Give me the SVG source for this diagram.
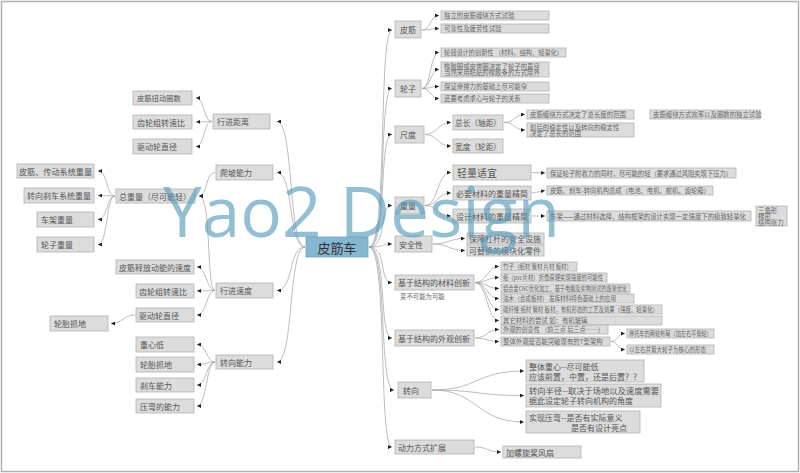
<svg xmlns="http://www.w3.org/2000/svg" width="800" height="473" viewBox="0 0 800 473">
<defs>
<marker id="a" markerWidth="4" markerHeight="4" refX="4" refY="2" orient="auto" markerUnits="userSpaceOnUse"><path d="M0,0 L4,2 L0,4 z" fill="#222"/></marker>
<style>
text{font-family:"Noto Sans CJK SC","Noto Sans",sans-serif;fill:#555;dominant-baseline:central}
.n rect{fill:#dcdcdc;stroke:#b2b2b2;stroke-width:0.8}
.m text{font-size:8px}
.s text{font-size:6.4px;fill:#666}
.c path{fill:none;stroke:#a0a0a0;stroke-width:0.7;marker-end:url(#a)}
.wm{font-family:"Open Sans","DejaVu Sans",sans-serif;font-size:70px;fill:#5b9ebd;opacity:0.65;dominant-baseline:alphabetic}
</style>
</defs>
<rect x="1.5" y="1.5" width="797" height="470" fill="#fff" stroke="#b0b0b0" stroke-width="1.5"/>

<g id="connectors" class="c">
<!-- right trunk -->
<path d="M369,247 C388,247 378,30 392,30"/>
<path d="M369,247 C388,247 378,88.5 392,88.5"/>
<path d="M369,247 C388,247 378,134.5 392,134.5"/>
<path d="M369,247 C388,247 378,205.5 392,205.5"/>
<path d="M369,247 C388,247 378,244 392,244"/>
<path d="M369,247 C388,247 378,282.5 392,282.5"/>
<path d="M369,247 C388,247 378,338 392,338"/>
<path d="M369,247 C388,247 378,390 394,390"/>
<path d="M369,247 C388,247 378,447 392,447"/>
<!-- left trunk -->
<path d="M305,247 C288,247 294,121.5 277,121.5"/>
<path d="M305,247 C288,247 294,172.5 277,172.5"/>
<path d="M305,247 C288,247 294,290.5 277,290.5"/>
<path d="M305,247 C288,247 294,362 277,362"/>
<!-- 皮筋 -->
<path d="M422,30 C431,30 430,15.5 439,15.5"/>
<path d="M422,30 C431,30 430,28.5 439,28.5"/>
<!-- 轮子 -->
<path d="M422,88.5 C431,88.5 430,52.5 439,52.5"/>
<path d="M422,88.5 C431,88.5 430,69.5 439,69.5"/>
<path d="M422,88.5 C431,88.5 430,86.5 439,86.5"/>
<path d="M422,88.5 C431,88.5 430,98.5 439,98.5"/>
<!-- 尺度 -->
<path d="M425,134.5 C438,134.5 437,122.5 451,122.5"/>
<path d="M425,134.5 C438,134.5 437,146 451,146"/>
<path d="M504,122.5 C515,122.5 514,114.5 525,114.5"/>
<path d="M504,122.5 C515,122.5 514,130 525,130"/>
<!-- 重量 -->
<path d="M425,205.5 C438,205.5 437,172.5 451,172.5"/>
<path d="M425,205.5 C438,205.5 437,193 451,193"/>
<path d="M425,205.5 C438,205.5 437,216 451,216"/>
<path d="M532,172.5 L545,173"/>
<path d="M532,193 L545,190.5"/>
<path d="M532,216 L545,216"/>
<!-- 安全性 -->
<path d="M433,244 C449,244 449,238.5 465,238.5"/>
<path d="M433,244 C449,244 449,250.5 465,250.5"/>
<!-- 材料创新 -->
<path d="M475,282.5 C487,282.5 487,266.5 499,266.5"/>
<path d="M475,282.5 C487,282.5 487,277.5 499,277.5"/>
<path d="M475,282.5 C487,282.5 487,288.5 499,288.5"/>
<path d="M475,282.5 C487,282.5 487,298.5 499,298.5"/>
<path d="M475,282.5 C487,282.5 487,309.5 499,309.5"/>
<path d="M475,282.5 C487,282.5 487,320.5 499,320.5"/>
<!-- 外观创新 -->
<path d="M475,338 C487,338 487,329.5 499,329.5"/>
<path d="M475,338 C487,338 487,341.5 499,341.5"/>
<path d="M611,341.5 C618,341.5 617,333.5 625,333.5"/>
<path d="M611,341.5 C618,341.5 617,349.5 625,349.5"/>
<!-- 转向 -->
<path d="M432,390 C478,390 476,371 524,371"/>
<path d="M432,390 C478,390 476,395.5 524,395.5"/>
<path d="M432,390 C478,390 476,422 524,422"/>
<!-- 动力 -->
<path d="M475,447 C488,447 487,452 501,452"/>
<!-- left: 行进距离 -->
<path d="M212,121.5 C203,121.5 205,98 196,98"/>
<path d="M212,121.5 L196,122"/>
<path d="M212,121.5 C203,121.5 205,146.5 196,146.5"/>
<!-- 爬坡 / 行进速度 -> 总重量 -->
<path d="M215,172.5 C205,172.5 208,196 199,196"/>
<path d="M215,290.5 C206,290.5 212,196 199,196"/>
<path d="M115,196 C106,196 108,171 98,171"/>
<path d="M115,196 L98,195.5"/>
<path d="M115,196 C106,196 108,219.5 98,219.5"/>
<path d="M115,196 C106,196 108,244.5 98,244.5"/>
<!-- 行进速度 -->
<path d="M215,290.5 C206,290.5 207,267 197,267"/>
<path d="M215,290.5 L197,291"/>
<path d="M215,290.5 C206,290.5 207,315 197,315"/>
<path d="M135,315 C123,315 123,323.5 111,323.5"/>
<!-- 转向能力 -->
<path d="M215,362 C206,362 207,344.5 197,344.5"/>
<path d="M215,362 C206,362 207,364.5 197,364.5"/>
<path d="M215,362 C206,362 207,385 197,385"/>
<path d="M215,362 C206,362 207,406 197,406"/>
</g>

<g id="root"><rect x="306" y="237" width="62" height="20" fill="#86b7d1" stroke="#6fa3bf" stroke-width="0.8"/><text x="337" y="247" text-anchor="middle" style="font-size:13px;fill:#333">皮筋车</text></g>

<!-- right level 1 -->
<g id="n-pijin" class="n m"><rect x="395" y="21" width="26" height="17"/><text x="400" y="29.5">皮筋</text></g>
<g id="n-lunzi" class="n m"><rect x="395" y="80" width="26" height="17"/><text x="400" y="88.5">轮子</text></g>
<g id="n-chidu" class="n m"><rect x="395" y="126" width="29" height="17"/><text x="400" y="134.5">尺度</text></g>
<g id="n-zhongliang" class="n m"><rect x="395" y="197" width="29" height="17"/><text x="400" y="205.5">重量</text></g>
<g id="n-anquan" class="n m"><rect x="395" y="236" width="37" height="16"/><text x="399" y="244">安全性</text></g>
<g id="n-cailiao" class="n m"><rect x="395" y="275" width="79" height="15"/><text x="398" y="282.5">基于结构的材料创新</text><text x="400" y="296" style="font-size:6.4px;fill:#666">变不可能为可能</text></g>
<g id="n-waiguan" class="n m"><rect x="395" y="330" width="79" height="16"/><text x="398" y="338">基于结构的外观创新</text></g>
<g id="n-zhuanxiang" class="n m"><rect x="398" y="382" width="33" height="16"/><text x="403" y="390">转向</text></g>
<g id="n-dongli" class="n m"><rect x="395" y="440" width="79" height="14"/><text x="398" y="447">动力方式扩展</text></g>

<!-- 皮筋 children -->
<g id="n-pj1" class="n s"><rect x="441" y="11" width="108" height="9"/><text x="444" y="15.5">独立的皮筋缠绕方式试验</text></g>
<g id="n-pj2" class="n s"><rect x="441" y="24" width="108" height="9"/><text x="444" y="28.5">可靠性及疲劳性试验</text></g>
<!-- 轮子 children -->
<g id="n-lz1" class="n s"><rect x="441" y="48" width="125" height="9"/><text x="444" y="52.5" textLength="119" lengthAdjust="spacingAndGlyphs">轮毂设计的创新性 （材料、结构、轻量化）</text></g>
<g id="n-lz2" class="n s"><rect x="441" y="62" width="108" height="15"/><text x="444" y="66">橡胶圈或皮带圈决定了轮子的直径</text><text x="444" y="72.8">当然采用粘贴的橡胶条的方式除外</text></g>
<g id="n-lz3" class="n s"><rect x="441" y="82" width="108" height="9"/><text x="444" y="86.5">保证摩擦力的基础上尽可能窄</text></g>
<g id="n-lz4" class="n s"><rect x="441" y="94" width="108" height="9"/><text x="444" y="98.5">还要考虑重心与轮子的关系</text></g>
<!-- 尺度 children -->
<g id="n-zongchang" class="n m"><rect x="453" y="115" width="50" height="15"/><text x="455" y="122.5" textLength="46" lengthAdjust="spacingAndGlyphs">总长（轴距）</text></g>
<g id="n-kuandu" class="n m"><rect x="453" y="139" width="50" height="14"/><text x="455" y="146" textLength="46" lengthAdjust="spacingAndGlyphs">宽度（轮距）</text></g>
<g id="n-zc1" class="n s"><rect x="527" y="110" width="107" height="9"/><text x="530" y="114.5">皮筋缠绕方式决定了总长度的范围</text></g>
<g id="n-zc2" class="n s"><rect x="527" y="123" width="107" height="14"/><text x="530" y="127">前后的稳定性以及转向的稳定性</text><text x="530" y="133">决定了总长的范围</text></g>
<g id="n-zc3" class="n s"><rect x="650" y="110" width="110" height="9"/><text x="653" y="114.5">皮筋缠绕方式效率以及圈数的独立试验</text></g>
<!-- 重量 children -->
<g id="n-qingliang" class="n"><rect x="453" y="165" width="78" height="15"/><text x="457" y="172.5" style="font-size:10px">轻量适宜</text></g>
<g id="n-biyao" class="n m"><rect x="453" y="186" width="78" height="14"/><text x="456" y="193">必要材料的重量精简</text></g>
<g id="n-sheji" class="n m"><rect x="453" y="209" width="78" height="14"/><text x="456" y="216">设计材料的重量精简</text></g>
<g id="n-ql1" class="n s"><rect x="547" y="168" width="189" height="10"/><text x="550" y="173" textLength="182" lengthAdjust="spacingAndGlyphs">保证轮子附着力的同时，尽可能的轻（要求通过风阻实现下压力）</text></g>
<g id="n-by1" class="n s"><rect x="547" y="186" width="166" height="9"/><text x="550" y="190.5" textLength="160" lengthAdjust="spacingAndGlyphs">皮筋、刹车-转向机构总成（电池、电机、舵机、齿轮箱）</text></g>
<g id="n-sj1" class="n s"><rect x="547" y="211" width="204" height="10"/><text x="550" y="216" textLength="196" lengthAdjust="spacingAndGlyphs">车架——通过材料选择，结构框架的设计实现一定强度下的极致轻量化</text></g>
<g id="n-sj2" class="n s"><rect x="756" y="206" width="31" height="20"/><text x="758" y="210">三角形</text><text x="758" y="216">梯形</text><text x="758" y="222">结构张力</text></g>
<!-- 安全性 children -->
<g id="n-aq1" class="n m"><rect x="467" y="233" width="77" height="11"/><text x="469" y="238.5">保障杠杆的安全设施</text></g>
<g id="n-aq2" class="n m"><rect x="467" y="245" width="77" height="11"/><text x="469" y="250.5">可替换的模块化零件</text></g>
<!-- 材料创新 children -->
<g id="n-cl1" class="n s"><rect x="501" y="262" width="76" height="9"/><text x="503" y="266.5" textLength="69" lengthAdjust="spacingAndGlyphs">竹子（纸材 管材 片材 板材）</text></g>
<g id="n-cl2" class="n s"><rect x="501" y="273" width="106" height="9"/><text x="503" y="277.5" textLength="100" lengthAdjust="spacingAndGlyphs">纸（pvc片材）折叠原理实现强度的可能性</text></g>
<g id="n-cl3" class="n s"><rect x="501" y="284" width="129" height="9"/><text x="503" y="288.5" textLength="124" lengthAdjust="spacingAndGlyphs">铝合金CNC优化加工，基于电脑及实物测试的逐渐优化</text></g>
<g id="n-cl4" class="n s"><rect x="501" y="294" width="133" height="9"/><text x="503" y="298.5" textLength="113" lengthAdjust="spacingAndGlyphs">油木（合成板材）  发挥材料特色基础上的应用</text></g>
<g id="n-cl5" class="n s"><rect x="501" y="305" width="161" height="9"/><text x="503" y="309.5" textLength="155" lengthAdjust="spacingAndGlyphs">碳纤维 纸材 管材 板材，有机形态的工艺及效果（强度、轻量化）</text></g>
<g id="n-cl6" class="n s"><rect x="501" y="316" width="161" height="9"/><text x="503" y="320.5">其它材料的尝试  如：有机玻璃</text></g>
<!-- 外观创新 children -->
<g id="n-wg1" class="n s"><rect x="501" y="325" width="107" height="9"/><text x="503" y="329.5" textLength="101" lengthAdjust="spacingAndGlyphs">外观的创意性 （前三点  后三点……）</text></g>
<g id="n-wg2" class="n s"><rect x="501" y="337" width="109" height="9"/><text x="503" y="341.5">整体外观是否能突破现有的T型架构</text></g>
<g id="n-wg3" class="n s"><rect x="627" y="329" width="87" height="9"/><text x="629" y="333.5" textLength="83" lengthAdjust="spacingAndGlyphs">摩托车的两轮布局（加左右平衡轮）</text></g>
<g id="n-wg4" class="n s"><rect x="627" y="345" width="87" height="9"/><text x="629" y="349.5" textLength="77" lengthAdjust="spacingAndGlyphs">以左右并置大轮子为核心的形态</text></g>
<!-- 转向 children -->
<g id="n-zx1" class="n m"><rect x="526" y="360" width="118" height="22"/><text x="529" y="366">整体重心--尽可能低</text><text x="529" y="376" textLength="112" lengthAdjust="spacingAndGlyphs">应该前置，中置，还是后置？？</text></g>
<g id="n-zx2" class="n m"><rect x="526" y="384" width="135" height="23"/><text x="529" y="390" textLength="130" lengthAdjust="spacingAndGlyphs">转向半径--取决于场地以及速度需要</text><text x="529" y="400">据此设定轮子转向机构的角度</text></g>
<g id="n-zx3" class="n m"><rect x="526" y="411" width="114" height="22"/><text x="529" y="417">实现压弯--是否有实际意义</text><text x="571" y="427">是否有设计亮点</text></g>
<!-- 动力 child -->
<g id="n-dl1" class="n m"><rect x="503" y="446" width="78" height="12"/><text x="506" y="452">加螺旋桨风扇</text></g>

<!-- left level 1 -->
<g id="n-xjjl" class="n m"><rect x="213" y="114" width="57" height="15"/><text x="217" y="121.5">行进距离</text></g>
<g id="n-pp" class="n m"><rect x="216" y="165" width="57" height="15"/><text x="220" y="172.5">爬坡能力</text></g>
<g id="n-xjsd" class="n m"><rect x="216" y="283" width="57" height="15"/><text x="220" y="290.5">行进速度</text></g>
<g id="n-zxnl" class="n m"><rect x="216" y="355" width="57" height="14"/><text x="220" y="362">转向能力</text></g>
<!-- 行进距离 children -->
<g id="n-jl1" class="n m"><rect x="133" y="91" width="59" height="14"/><text x="137" y="98" style="font-size:7.3px">皮筋扭动圈数</text></g>
<g id="n-jl2" class="n m"><rect x="133" y="115" width="59" height="14"/><text x="137" y="122">齿轮组转速比</text></g>
<g id="n-jl3" class="n m"><rect x="133" y="139" width="59" height="15"/><text x="137" y="146.5">驱动轮直径</text></g>
<!-- 总重量 -->
<g id="n-zzl" class="n m"><rect x="116" y="189" width="79" height="14"/><text x="119" y="196">总重量（尽可能轻）</text></g>
<g id="n-zl1" class="n m"><rect x="17" y="164" width="77" height="14"/><text x="19" y="171" textLength="73" lengthAdjust="spacingAndGlyphs">皮筋、传动系统重量</text></g>
<g id="n-zl2" class="n m"><rect x="24" y="188" width="70" height="15"/><text x="27" y="195.5">转向刹车系统重量</text></g>
<g id="n-zl3" class="n m"><rect x="37" y="212" width="57" height="15"/><text x="41" y="219.5">车架重量</text></g>
<g id="n-zl4" class="n m"><rect x="37" y="237" width="57" height="15"/><text x="41" y="244.5">轮子重量</text></g>
<!-- 行进速度 children -->
<g id="n-sd1" class="n m"><rect x="116" y="260" width="78" height="14"/><text x="119" y="267">皮筋释放动能的速度</text></g>
<g id="n-sd2" class="n m"><rect x="136" y="284" width="58" height="14"/><text x="139" y="291">齿轮组转速比</text></g>
<g id="n-sd3" class="n m"><rect x="136" y="308" width="58" height="14"/><text x="139" y="315">驱动轮直径</text></g>
<g id="n-sd4" class="n m"><rect x="50" y="316" width="58" height="15"/><text x="54" y="323.5">轮胎抓地</text></g>
<!-- 转向能力 children -->
<g id="n-zn1" class="n m"><rect x="136" y="337" width="58" height="15"/><text x="140" y="344.5">重心低</text></g>
<g id="n-zn2" class="n m"><rect x="136" y="357" width="58" height="15"/><text x="140" y="364.5">轮胎抓地</text></g>
<g id="n-zn3" class="n m"><rect x="136" y="378" width="58" height="14"/><text x="140" y="385">刹车能力</text></g>
<g id="n-zn4" class="n m"><rect x="136" y="399" width="58" height="14"/><text x="140" y="406">压弯的能力</text></g>

<text class="wm" x="163" y="237" textLength="397" lengthAdjust="spacingAndGlyphs">Yao2 Design</text>
</svg>
